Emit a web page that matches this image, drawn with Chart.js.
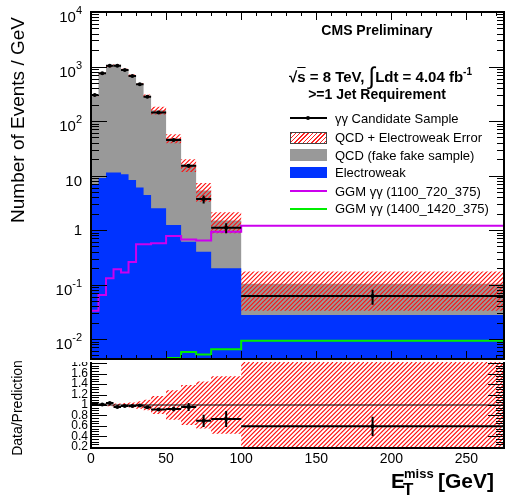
<!DOCTYPE html>
<html>
<head>
<meta charset="utf-8">
<script src="https://cdn.jsdelivr.net/npm/chart.js@4.4.0/dist/chart.umd.min.js"></script>
<style>
  body { margin: 0; background: #fff; }
  #wrap { position: relative; width: 506px; height: 498px; overflow: hidden;
          font-family: 'Liberation Sans', Arial, Helvetica, sans-serif; color: #000; }
  canvas { position: absolute; left: 0; }
  .t { position: absolute; white-space: nowrap; line-height: 1; }
  .b { font-weight: bold; }
  .sw { position: absolute; left: 290px; width: 37px; }
  .rot { position: absolute; white-space: nowrap; line-height: 1; transform: translate(-50%, -50%) rotate(-90deg); }
</style>
</head>
<body>
<div id="wrap">
  <canvas id="ratio" width="506" height="148" style="top:350px"></canvas>
  <canvas id="main" width="506" height="362" style="top:0"></canvas>

  <div class="rot" style="left:17px; top:120px; font-size:19px;">Number of Events / GeV</div>
  <div class="rot" style="left:17px; top:408px; font-size:14px;">Data/Prediction</div>

  <div class="t b" style="left:277px; width:200px; text-align:center; top:23px; font-size:14px;">CMS Preliminary</div>
  <div class="t b" style="left:289px; top:64px; font-size:15px;">&radic;<span style="text-decoration:overline">s</span> = 8 TeV, <span style="font-size:24px; font-weight:normal; vertical-align:-2px;">&int;</span>Ldt = 4.04 fb<span style="font-size:10px; vertical-align:7px;">-1</span></div>
  <div class="t b" style="left:277px; width:200px; text-align:center; top:87px; font-size:14px;">&gt;=1 Jet Requirement</div>

  <div class="sw" style="top:117px; height:2px; background:#000;"></div>
  <div style="position:absolute; left:306px; top:116px; width:4px; height:4px; border-radius:2px; background:#000;"></div>
  <div class="sw" style="top:132px; height:10px; border:1px solid #444; width:35px; background:repeating-linear-gradient(135deg, #f22 0 1px, #fff 1px 3px);"></div>
  <div class="sw" style="top:149px; height:12px; background:#999;"></div>
  <div class="sw" style="top:167px; height:11px; background:#0033ff;"></div>
  <div class="sw" style="top:190px; height:2px; background:#cc00ee;"></div>
  <div class="sw" style="top:208px; height:2px; background:#00ee00;"></div>

  <div class="t" style="left:335px; top:112px; font-size:13px;">&gamma;&gamma; Candidate Sample</div>
  <div class="t" style="left:335px; top:130.5px; font-size:13px;">QCD + Electroweak Error</div>
  <div class="t" style="left:335px; top:148.5px; font-size:13px;">QCD (fake fake sample)</div>
  <div class="t" style="left:335px; top:166px; font-size:13px;">Electroweak</div>
  <div class="t" style="left:335px; top:184.5px; font-size:13px;">GGM &gamma;&gamma; (1100_720_375)</div>
  <div class="t" style="left:335px; top:202px; font-size:13px;">GGM &gamma;&gamma; (1400_1420_375)</div>

  <div class="t b" style="left:391px; top:470px; font-size:21px;">E</div>
  <div class="t b" style="left:404px; top:467px; font-size:13px;">miss</div>
  <div class="t b" style="left:403px; top:481px; font-size:17px;">T</div>
  <div class="t b" style="left:438px; top:470px; font-size:21px;">[GeV]</div>
</div>
<script>
// bins of MET [GeV]
const binEdges = [0, 5, 10, 15, 20, 25, 30, 35, 40, 50, 60, 70, 80, 100, 275];
// events / GeV
const candidateData = [300, 750, 1035, 1035, 862, 670, 471, 279, 144, 44.6, 15.1, 3.7, 1.1, 0.0615];
const candidateErr = [7.7, 12, 14, 14, 13, 12, 10, 7.5, 3.8, 2.1, 1.2, 0.62, 0.23, 0.019];
const qcdFakeFake = [287, 734, 984, 1067, 870, 676, 470, 287, 155, 47, 15.1, 4.9, 1.3, 0.076];
const electroweak = [7, 9, 11.4, 11.4, 10.5, 8.3, 6.0, 4.4, 2.5, 1.24, 0.61, 0.40, 0.198, 0.0276];
const bkgRelErr = [0.03, 0.03, 0.03, 0.03, 0.03, 0.04, 0.04, 0.05, 0.16, 0.19, 0.26, 0.38, 0.42, 0.68];
const ggm1100 = [0.033, 0.064, 0.13, 0.19, 0.166, 0.26, 0.55, 0.55, 0.57, 0.78, 0.67, 0.64, 0.93, 1.2];
const ggm1400 = [null, null, null, null, null, null, null, null, null, 0.0045, 0.0058, 0.0052, 0.0065, 0.0093];
// relative band in the ratio pad
const ratioBandErr = [0.02, 0.02, 0.025, 0.03, 0.04, 0.05, 0.07, 0.1, 0.17, 0.28, 0.38, 0.45, 0.55, 1.0];

// axis ticks
const xTicks = [0, 50, 100, 150, 200, 250];
const yMainTicks = [0.01, 0.1, 1, 10, 100, 1000, 10000];
const yMainLabels = [['10', '-2'], ['10', '-1'], ['1', ''], ['10', ''], ['10', '2'], ['10', '3'], ['10', '4']];
const yRatioTicks = [0.2, 0.4, 0.6, 0.8, 1, 1.2, 1.4, 1.6, 1.8];
const yRatioLabels = ['0.2', '0.4', '0.6', '0.8', '1', '1.2', '1.4', '1.6', '1.8'];

const FONT = "'Liberation Sans', Arial, Helvetica, sans-serif";

const bkgTotal = qcdFakeFake.map((q, i) => q + electroweak[i]);
const bandLow = bkgTotal.map((t, i) => t * (1 - bkgRelErr[i]));
const bandHigh = bkgTotal.map((t, i) => t * (1 + bkgRelErr[i]));
const ratioVals = candidateData.map((d, i) => d / bkgTotal[i]);
const ratioErrs = candidateErr.map((e, i) => e / bkgTotal[i]);

function stepPoints(vals) {
	let pts = vals.map((v, i) => ({x: binEdges[i], y: v}));
	pts.push({x: binEdges[binEdges.length - 1], y: vals[vals.length - 1]});
	return pts;
}

function fixAxis(w, h) {
	return function (s) {
		if (w !== null) s.width = w;
		if (h !== null) s.height = h;
		s.paddingTop = 0; s.paddingBottom = 0; s.paddingLeft = 0; s.paddingRight = 0;
	};
}

// red "/" hatching of the per-bin band [low, high]
function drawHatch(chart, low, high) {
	const {ctx, chartArea: a, scales: {x, y}} = chart;
	ctx.save();
	ctx.beginPath();
	ctx.rect(a.left, a.top, a.right - a.left, a.bottom - a.top);
	ctx.clip();
	ctx.beginPath();
	low.forEach((lo, i) => {
		const x0 = x.getPixelForValue(binEdges[i]), x1 = x.getPixelForValue(binEdges[i + 1]);
		const y0 = Math.min(y.getPixelForValue(Math.max(lo, y.min)), a.bottom);
		const y1 = Math.max(y.getPixelForValue(high[i]), a.top);
		ctx.rect(x0, y1, x1 - x0, y0 - y1);
	});
	ctx.clip();
	const h = a.bottom - a.top;
	ctx.strokeStyle = '#ff1010';
	ctx.lineWidth = 1.1;
	ctx.beginPath();
	for (let k = a.left - h; k < a.right; k += 4.4) {
		ctx.moveTo(k, a.bottom); ctx.lineTo(k + h, a.top);
	}
	ctx.stroke();
	ctx.restore();
}

function drawPoints(chart, vals, errs) {
	const {ctx, chartArea: a, scales: {x, y}} = chart;
	ctx.save();
	ctx.beginPath();
	ctx.rect(a.left, a.top, a.right - a.left, a.bottom - a.top);
	ctx.clip();
	ctx.strokeStyle = '#000';
	ctx.fillStyle = '#000';
	ctx.lineWidth = 2;
	vals.forEach((v, i) => {
		const x0 = x.getPixelForValue(binEdges[i]), x1 = x.getPixelForValue(binEdges[i + 1]);
		const xc = (x0 + x1) / 2, yc = y.getPixelForValue(v);
		ctx.beginPath();
		ctx.moveTo(x0, yc); ctx.lineTo(x1, yc);
		ctx.moveTo(xc, y.getPixelForValue(v - errs[i])); ctx.lineTo(xc, y.getPixelForValue(v + errs[i]));
		ctx.stroke();
		ctx.beginPath();
		ctx.arc(xc, yc, 2, 0, Math.PI * 2);
		ctx.fill();
	});
	ctx.restore();
}

const whiteBg = {
	id: 'whiteBg',
	beforeDraw(chart) {
		const ctx = chart.ctx;
		ctx.save();
		ctx.fillStyle = '#fff';
		ctx.fillRect(0, 0, chart.width, chart.height);
		ctx.restore();
	}
};

const mainDecor = {
	id: 'mainDecor',
	afterDatasetDraw(chart, args) {
		// error band goes over the grey stack, under the electroweak fill
		if (args.index === 0) drawHatch(chart, bandLow, bandHigh);
	},
	afterDatasetsDraw(chart) {
		drawPoints(chart, candidateData, candidateErr);
	},
	afterDraw(chart) {
		const {ctx, chartArea: a, scales: {x, y}} = chart;
		ctx.save();
		ctx.strokeStyle = '#000';
		ctx.lineWidth = 1;
		ctx.beginPath();
		for (let v = 0; v <= 275; v += 10) {
			const px = Math.round(x.getPixelForValue(v)) + 0.5;
			const len = v % 50 === 0 ? 8 : 4;
			ctx.moveTo(px, a.bottom); ctx.lineTo(px, a.bottom - len);
			ctx.moveTo(px, a.top); ctx.lineTo(px, a.top + len);
		}
		for (let e = -3; e <= 4; e++) {
			for (let m = 1; m <= 9; m++) {
				const v = m * Math.pow(10, e);
				if (v < y.min || v > y.max) continue;
				const py = Math.round(y.getPixelForValue(v)) + 0.5;
				const len = m === 1 ? 16 : 8;
				ctx.moveTo(a.left, py); ctx.lineTo(a.left + len, py);
				ctx.moveTo(a.right, py); ctx.lineTo(a.right - len + 1, py);
			}
		}
		ctx.stroke();
		ctx.lineWidth = 2;
		ctx.strokeRect(a.left, a.top, a.right - a.left, a.bottom - a.top);
		// y labels, drawn ROOT-like with a raised exponent
		ctx.fillStyle = '#000';
		ctx.textBaseline = 'middle';
		ctx.textAlign = 'right';
		yMainTicks.forEach((v, i) => {
			const py = y.getPixelForValue(v);
			const [base, ex] = yMainLabels[i];
			const shift = base === '10' ? 6 : 1;
			let right = 82;
			if (ex) {
				ctx.font = '11px ' + FONT;
				ctx.fillText(ex, right, py + shift - 7);
				right -= ctx.measureText(ex).width;
			}
			ctx.font = '15px ' + FONT;
			ctx.fillText(base, right, py + shift);
		});
		ctx.restore();
	}
};

const ratioDecor = {
	id: 'ratioDecor',
	beforeDatasetsDraw(chart) {
		drawHatch(chart, ratioBandErr.map(e => 1 - e), ratioBandErr.map(e => 1 + e));
	},
	afterDatasetsDraw(chart) {
		drawPoints(chart, ratioVals, ratioErrs);
	},
	afterDraw(chart) {
		const {ctx, chartArea: a, scales: {y}} = chart;
		ctx.save();
		ctx.strokeStyle = '#000';
		ctx.lineWidth = 1;
		ctx.beginPath();
		for (let k = 4; k <= 36; k++) {
			const v = k * 0.05;
			const py = Math.round(y.getPixelForValue(v)) + 0.5;
			const len = k % 4 === 0 ? 16 : 8;
			ctx.moveTo(a.left, py); ctx.lineTo(a.left + len, py);
			ctx.moveTo(a.right, py); ctx.lineTo(a.right - len, py);
		}
		ctx.stroke();
		ctx.lineWidth = 2;
		ctx.beginPath();
		ctx.moveTo(a.left, a.top); ctx.lineTo(a.left, a.bottom); ctx.lineTo(a.right, a.bottom); ctx.lineTo(a.right, a.top);
		ctx.stroke();
		ctx.fillStyle = '#000';
		ctx.textBaseline = 'middle';
		ctx.textAlign = 'right';
		ctx.font = '12px ' + FONT;
		yRatioTicks.forEach((v, i) => {
			ctx.fillText(yRatioLabels[i], 88, y.getPixelForValue(v));
		});
		ctx.restore();
	}
};

// main pad
const mainCtx = document.getElementById('main').getContext('2d');
new Chart(mainCtx, {
	type: 'line',
	data: {
		datasets: [{
			label: 'QCD (fake fake sample)',
			data: stepPoints(bkgTotal),
			stepped: true,
			borderColor: 'transparent',
			borderWidth: 0,
			backgroundColor: '#999999',
			fill: 'start',
			pointRadius: 0,
			order: 4
		}, {
			label: 'Electroweak',
			data: stepPoints(electroweak),
			stepped: true,
			borderColor: 'transparent',
			borderWidth: 0,
			backgroundColor: '#0033ff',
			fill: 'start',
			pointRadius: 0,
			order: 3
		}, {
			label: 'GGM (1100_720_375)',
			data: stepPoints(ggm1100),
			stepped: true,
			borderColor: '#cc00ee',
			borderWidth: 2,
			fill: false,
			pointRadius: 0,
			order: 2
		}, {
			label: 'GGM (1400_1420_375)',
			data: stepPoints(ggm1400),
			stepped: true,
			borderColor: '#00ee00',
			borderWidth: 2,
			fill: false,
			pointRadius: 0,
			order: 1
		}]
	},
	options: {
		responsive: false,
		animation: false,
		events: [],
		layout: {padding: {top: 12, right: 2, bottom: 3, left: 0}},
		plugins: {legend: {display: false}, tooltip: {enabled: false}},
		scales: {
			x: {type: 'linear', min: 0, max: 275, display: false},
			y: {
				type: 'logarithmic', min: 0.0043, max: 10000,
				grid: {display: false}, border: {display: false}, ticks: {display: false},
				afterFit: fixAxis(91, null)
			}
		}
	},
	plugins: [whiteBg, mainDecor]
});

// ratio pad
const ratioCtx = document.getElementById('ratio').getContext('2d');
new Chart(ratioCtx, {
	type: 'line',
	data: {
		datasets: [{
			label: 'unity',
			data: [{x: 0, y: 1}, {x: 275, y: 1}],
			borderColor: '#000',
			borderWidth: 1,
			fill: false,
			pointRadius: 0
		}]
	},
	options: {
		responsive: false,
		animation: false,
		events: [],
		layout: {padding: {top: 12, right: 2, bottom: 0, left: 0}},
		plugins: {legend: {display: false}, tooltip: {enabled: false}},
		scales: {
			x: {
				type: 'linear', min: 0, max: 275,
				grid: {display: false, drawTicks: false}, border: {display: false},
				afterBuildTicks: s => { s.ticks = xTicks.map(v => ({value: v})); },
				ticks: {color: '#000', font: {family: FONT, size: 14}, padding: 3, maxRotation: 0, autoSkip: false},
				afterFit: fixAxis(null, 50)
			},
			y: {
				type: 'linear', min: 0.18, max: 1.82,
				grid: {display: false}, border: {display: false}, ticks: {display: false},
				afterFit: fixAxis(91, null)
			}
		}
	},
	plugins: [ratioDecor]
});
</script>
</body>
</html>
